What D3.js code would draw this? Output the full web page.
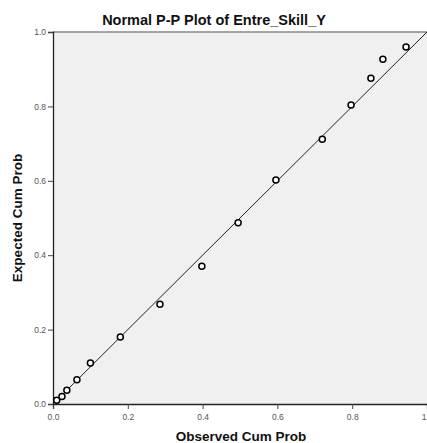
<!DOCTYPE html>
<html><head><meta charset="utf-8">
<script src="https://cdn.jsdelivr.net/npm/d3@7"></script>
<style>body{margin:0;background:#fff;} svg{display:block;font-family:"Liberation Sans",Arial,sans-serif;}</style>
</head><body>
<script>
const observed = [0.01, 0.024, 0.037, 0.064, 0.10, 0.18, 0.286, 0.398, 0.495, 0.596, 0.72, 0.797, 0.85, 0.882, 0.944];
const expected = [0.01, 0.02, 0.037, 0.065, 0.11, 0.18, 0.268, 0.37, 0.487, 0.602, 0.712, 0.804, 0.876, 0.927, 0.96];
const xTicks = [0, 0.2, 0.4, 0.6, 0.8, 1.0];
const xTickLabels = ["0.0", "0.2", "0.4", "0.6", "0.8", "1"];
const yTicks = [0, 0.2, 0.4, 0.6, 0.8, 1.0];
const yTickLabels = ["0.0", "0.2", "0.4", "0.6", "0.8", "1.0"];

const W = 427, H = 443;
const svg = d3.select("body").append("svg").attr("width", W).attr("height", H);
const x = d3.scaleLinear().domain([0, 1]).range([53, 427]);
const y = d3.scaleLinear().domain([0, 1]).range([404, 32]);

svg.append("rect").attr("x", x(0)).attr("y", y(1)).attr("width", x(1) - x(0)).attr("height", y(0) - y(1))
  .attr("fill", "#f0f0f0");
svg.append("line").attr("x1", x(0)).attr("x2", x(1)).attr("y1", y(1)).attr("y2", y(1))
  .attr("stroke", "#888").attr("stroke-width", 1.5);

const xAxis = svg.append("g").attr("transform", `translate(0,${y(0)})`)
  .call(d3.axisBottom(x).tickValues(xTicks).tickSize(5).tickFormat((d, i) => xTickLabels[i]));
const yAxis = svg.append("g").attr("transform", `translate(${x(0)},0)`)
  .call(d3.axisLeft(y).tickValues(yTicks).tickSize(5).tickFormat((d, i) => yTickLabels[i]));
[xAxis, yAxis].forEach(g => {
  g.select(".domain").attr("stroke", "#222").attr("stroke-width", 1.3);
  g.selectAll(".tick line").attr("stroke", "#444");
  g.selectAll(".tick text").attr("fill", "#555").attr("font-size", "8.5px")
    .attr("font-family", '"Liberation Sans",Arial,sans-serif');
});
xAxis.selectAll(".tick text").attr("dy", "0.9em");
xAxis.selectAll(".tick text").filter((d, i) => i === xTicks.length - 1).attr("text-anchor", "end").attr("dx", "-1px");
yAxis.selectAll(".tick text").attr("dx", "1px");

svg.append("line").attr("x1", x(0)).attr("y1", y(0)).attr("x2", x(1)).attr("y2", y(1))
  .attr("stroke", "#222").attr("stroke-width", 1);

svg.append("g").selectAll("circle").data(observed).join("circle")
  .attr("cx", d => x(d)).attr("cy", (d, i) => y(expected[i])).attr("r", 3)
  .attr("fill", "#fff").attr("stroke", "#000").attr("stroke-width", 1.5);

svg.append("text").attr("x", 214).attr("y", 25).attr("text-anchor", "middle")
  .attr("font-size", "14.5px").attr("font-weight", "bold").attr("fill", "#111").text("Normal P-P Plot of Entre_Skill_Y");
svg.append("text").attr("x", 241).attr("y", 441).attr("text-anchor", "middle")
  .attr("font-size", "13.5px").attr("font-weight", "bold").attr("fill", "#111").text("Observed Cum Prob");
svg.append("text").attr("transform", "translate(22,218) rotate(-90)").attr("text-anchor", "middle")
  .attr("font-size", "13.5px").attr("font-weight", "bold").attr("fill", "#111").text("Expected Cum Prob");
</script>
</body></html>
